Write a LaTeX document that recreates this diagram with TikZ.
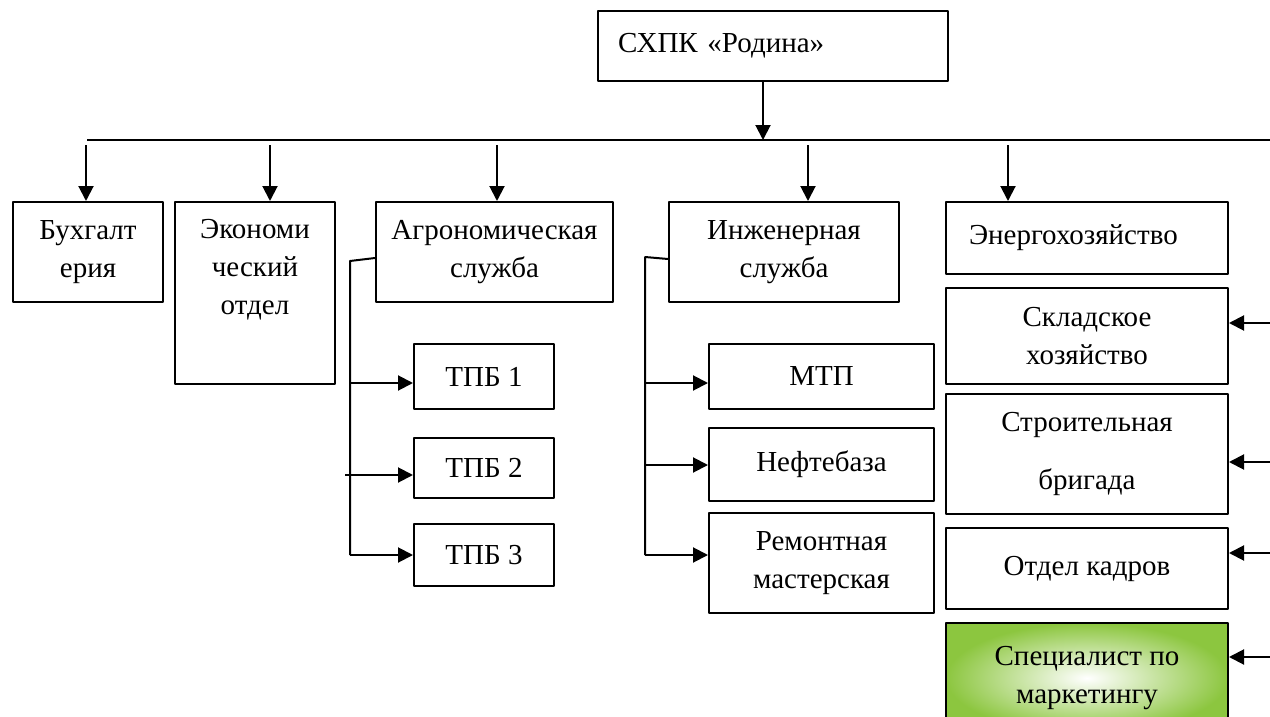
\documentclass[tikz,border=0pt]{standalone}
\usepackage{fontspec}
\setmainfont{Liberation Serif}
\usetikzlibrary{arrows.meta, positioning}
\definecolor{leafgreen}{RGB}{140,198,63}

\begin{document}
\begin{tikzpicture}[
        x=1pt, y=-1pt,
        line join=bevel,
        boxnode/.style={shape=rectangle, draw=black, line width=2pt, anchor=north west, align=center, inner sep=0pt, font=\fontsize{29}{38}\selectfont},
        greennode/.style={boxnode, shading=radial, inner color=white, outer color=leafgreen},
        arrow/.style={-{Triangle[length=15pt, width=15pt]}, line width=2pt}
        ]
        \useasboundingbox (0,0) rectangle (1270,717);
        \clip (0,0) rectangle (1270,717);

        %% Boxes
        \node[boxnode, minimum width=350pt, minimum height=70pt, text width=310pt, align=left] (rodina) at (597,10) {СХПК «Родина»};
        \node[boxnode, minimum width=150pt, minimum height=100pt] (buh) at (12,201) {Бухгалт\\ерия};
        \node[boxnode, minimum width=160pt, minimum height=182pt, text depth=53pt] (eco) at (174,201) {Экономи\\ческий\\отдел};
        \node[boxnode, minimum width=237pt, minimum height=100pt] (agro) at (375,201) {Агрономическая\\служба};
        \node[boxnode, minimum width=230pt, minimum height=100pt] (inzh) at (668,201) {Инженерная\\служба};
        \node[boxnode, minimum width=282pt, minimum height=72pt, text width=236pt, align=left] (energo) at (945,201) {Энергохозяйство};
        \node[boxnode, minimum width=282pt, minimum height=96pt] (sklad) at (945,287) {Складское\\хозяйство};
        \node[boxnode, minimum width=282pt, minimum height=120pt] (stroy) at (945,393) {Строительная\\[20pt]бригада};
        \node[boxnode, minimum width=282pt, minimum height=81pt] (kadry) at (945,527) {Отдел кадров};
        \node[greennode, minimum width=282pt, minimum height=110pt] (market) at (945,622) {Специалист по\\маркетингу};

        \node[boxnode, minimum width=140pt, minimum height=65pt] (tpb1) at (413,343) {ТПБ 1};
        \node[boxnode, minimum width=140pt, minimum height=60pt] (tpb2) at (413,437) {ТПБ 2};
        \node[boxnode, minimum width=140pt, minimum height=62pt] (tpb3) at (413,523) {ТПБ 3};

        \node[boxnode, minimum width=225pt, minimum height=65pt] (mtp) at (708,343) {МТП};
        \node[boxnode, minimum width=225pt, minimum height=73pt] (neft) at (708,427) {Нефтебаза};
        \node[boxnode, minimum width=225pt, minimum height=100pt] (remont) at (708,512) {Ремонтная\\мастерская};

        %% Draws
        \coordinate (bus) at (763,140);
        \coordinate (busleft) at (87,140);
        \coordinate (busright) at (1270,140);
        \draw[arrow] (rodina.south -| bus) -- (bus);
        \draw[line width=2pt] (busleft) -- (busright);
        \foreach \n/\x in {buh/86, eco/270, agro/497, inzh/808, energo/1008} {
            \draw[arrow] (\x,145) -- (\x,0 |- \n.north);
        }
        \foreach \n/\y in {sklad/323, stroy/462, kadry/553, market/657} {
            \draw[arrow] (1270,\y) -- (\n.east |- 0,\y);
        }

% Agro branch
        \coordinate (agrotrunk) at (350,261);
        \draw[line width=2pt] (agro.west |- 0,258) -- (agrotrunk) -- (350,555);
        \foreach \n/\y/\s in {tpb1/383/350, tpb2/475/345, tpb3/555/350} {
            \draw[arrow] (\s,\y) -- (\n.west |- 0,\y);
        }
% Engineering branch
        \coordinate (inzhtrunk) at (645,257);
        \draw[line width=2pt] (inzh.west |- 0,259) -- (inzhtrunk) -- (645,555);
        \foreach \n/\y in {mtp/383, neft/465, remont/555} {
            \draw[arrow] (645,\y) -- (\n.west |- 0,\y);
        }
\end{tikzpicture}
\end{document}
